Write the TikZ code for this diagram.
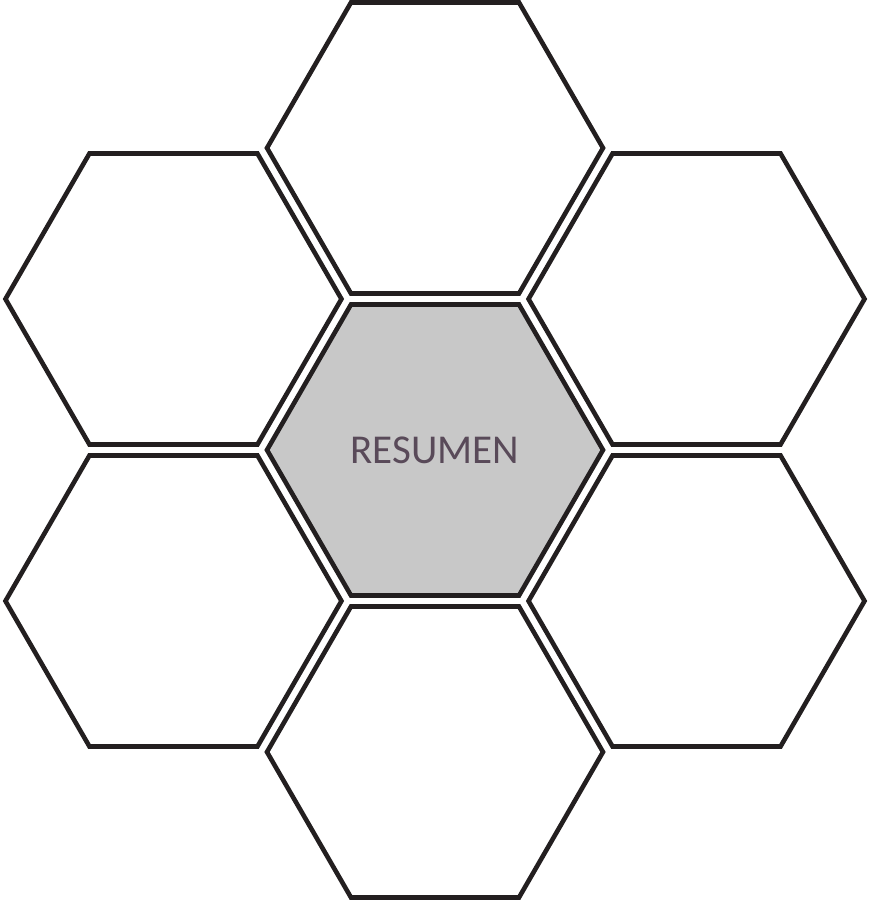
\documentclass[tikz,border=0pt]{standalone}
\usepackage{fontspec}
\setmainfont{Carlito}
\usepackage{xcolor}
\usepackage{tikz}
\usetikzlibrary{shapes.geometric, positioning}

\definecolor{hexline}{HTML}{231F20}
\definecolor{hexfill}{HTML}{C8C8C8}
\definecolor{hextext}{HTML}{594A59}

\begin{document}
\begin{tikzpicture}[
        x=1pt, y=1pt,
        hexbox/.style={
            regular polygon,
            regular polygon sides=6,
            draw=hexline,
            line width=4.6pt,
            minimum size=336pt,
            inner sep=0pt,
            fill=white
        },
        centerbox/.style={hexbox, fill=hexfill, text=hextext,
            font=\fontsize{41}{48}\selectfont}
    ]
        \useasboundingbox (-435,-454) rectangle (433,450);
        \node[centerbox] (resumen) at (0, 0) {RESUMEN};
        \node[hexbox] (top) at (90:302) {};
        \node[hexbox] (topright) at (30:302) {};
        \node[hexbox] (botright) at (-30:302) {};
        \node[hexbox] (bottom) at (-90:302) {};
        \node[hexbox] (botleft) at (-150:302) {};
        \node[hexbox] (topleft) at (150:302) {};
    \end{tikzpicture}
\end{document}
